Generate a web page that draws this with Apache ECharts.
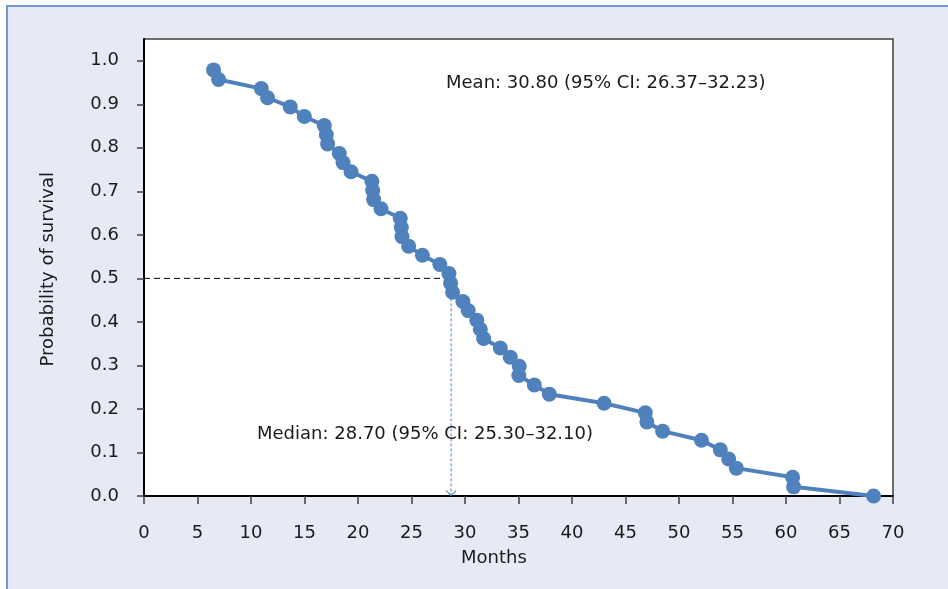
<!DOCTYPE html>
<html>
<head>
<meta charset="utf-8">
<script src="https://cdn.jsdelivr.net/npm/echarts@6/dist/echarts.min.js"></script>
<style>
html,body{margin:0;padding:0;background:#fff;}
#chart{width:948px;height:589px;}
</style>
</head>
<body>
<div id="chart"></div>
<script>
// Kaplan-Meier style survival estimate
const months = [6.5, 6.97, 10.96, 11.55, 13.67, 14.98, 16.85, 17.04, 17.16, 18.25, 18.6, 19.35,
  21.3, 21.37, 21.46, 22.15, 23.95, 24.05, 24.11, 24.73, 26.02, 27.65, 28.5, 28.65, 28.84,
  29.8, 30.3, 31.1, 31.43, 31.74, 33.3, 34.23, 35.07, 35.03, 36.48, 37.88, 43.0, 46.85,
  47.0, 48.47, 52.1, 53.86, 54.64, 55.36, 60.62, 60.71, 68.19];
const survival = [0.979, 0.957, 0.936, 0.915, 0.894, 0.872, 0.851, 0.830, 0.809, 0.787, 0.766, 0.745,
  0.723, 0.702, 0.681, 0.660, 0.638, 0.617, 0.596, 0.574, 0.553, 0.532, 0.511, 0.489, 0.468,
  0.447, 0.426, 0.404, 0.383, 0.362, 0.340, 0.319, 0.298, 0.277, 0.255, 0.234, 0.213, 0.191,
  0.170, 0.149, 0.128, 0.106, 0.085, 0.064, 0.043, 0.021, 0.000];
const medianMonths = 28.7;
const medianProb = 0.5;
const yTicks = [0, 0.1, 0.2, 0.3, 0.4, 0.5, 0.6, 0.7, 0.8, 0.9, 1.0];
const meanText = 'Mean: 30.80 (95% CI: 26.37\u201332.23)';
const medianText = 'Median: 28.70 (95% CI: 25.30\u201332.10)';
const xTitle = 'Months';
const yTitle = 'Probability of survival';

const FONT = '"DejaVu Sans", "Noto Sans", sans-serif';
const BLUE = '#4f81bd';

const chart = echarts.init(document.getElementById('chart'), null, {renderer: 'canvas'});
chart.setOption({
  backgroundColor: '#ffffff',
  animation: false,
  textStyle: {fontFamily: FONT},
  graphic: [
    {type: 'rect', z: -100, silent: true,
     shape: {x: 7, y: 6, width: 960, height: 600},
     style: {fill: '#e6eaf5', stroke: '#6d9ad2', lineWidth: 2}},
    {type: 'text', left: 446, top: 74, z: 100,
     style: {text: meanText, font: '18px ' + FONT, fill: '#1a1a1a'}},
    {type: 'text', left: 257, top: 425, z: 100,
     style: {text: medianText, font: '18px ' + FONT, fill: '#1a1a1a'}},
    {type: 'text', left: 461, top: 549, z: 100,
     style: {text: xTitle, font: '18px ' + FONT, fill: '#1a1a1a'}},
    {type: 'text', left: 39, top: 172, rotation: Math.PI / 2, z: 100,
     originX: 0, originY: 0,
     style: {text: yTitle, font: '18px ' + FONT, fill: '#1a1a1a'}}
  ],
  grid: {
    left: 144, right: 55, top: 39, bottom: 93,
    show: true, backgroundColor: '#ffffff', borderColor: '#404040', borderWidth: 1.5
  },
  xAxis: {
    type: 'value', min: 0, max: 70, interval: 5,
    axisLine: {show: true, onZero: false, lineStyle: {color: '#000', width: 2}},
    axisTick: {show: true, inside: false, length: 8, lineStyle: {color: '#404040', width: 1.5}},
    axisLabel: {color: '#1a1a1a', fontSize: 18, margin: 28, fontFamily: FONT},
    splitLine: {show: false}
  },
  yAxis: {
    type: 'value', min: 0, max: 1.05, interval: 0.1,
    axisLine: {show: true, onZero: false, lineStyle: {color: '#000', width: 2}},
    axisTick: {show: true, inside: false, length: 7, customValues: yTicks, lineStyle: {color: '#404040', width: 1.5}},
    axisLabel: {color: '#1a1a1a', fontSize: 18, margin: 25, fontFamily: FONT, customValues: yTicks,
      formatter: function (v) { return v > 1.001 ? '' : v.toFixed(1); }},
    splitLine: {show: false}
  },
  series: [
    {
      name: 'median-h', type: 'line', z: 1, silent: true,
      data: [[0, medianProb], [medianMonths, medianProb]],
      symbol: 'none',
      lineStyle: {color: '#000', width: 1, type: [6, 4]}
    },
    {
      name: 'median-v', type: 'line', z: 1, silent: true,
      data: [[medianMonths, medianProb], {value: [medianMonths, 0], symbol: 'path://M0 0L5 7L10 0', symbolSize: [10, 7], symbolOffset: [0, -3]}],
      symbol: 'none', symbolKeepAspect: true,
      itemStyle: {color: 'rgba(0,0,0,0)', borderColor: BLUE, borderWidth: 1},
      lineStyle: {color: BLUE, width: 1, type: [3, 2]}
    },
    {
      name: 'Survival', type: 'line', z: 3,
      data: months.map((m, i) => [m, survival[i]]),
      symbol: 'circle', symbolSize: 15, showAllSymbol: true,
      lineStyle: {color: BLUE, width: 4},
      itemStyle: {color: BLUE}
    }
  ]
});
</script>
</body>
</html>
